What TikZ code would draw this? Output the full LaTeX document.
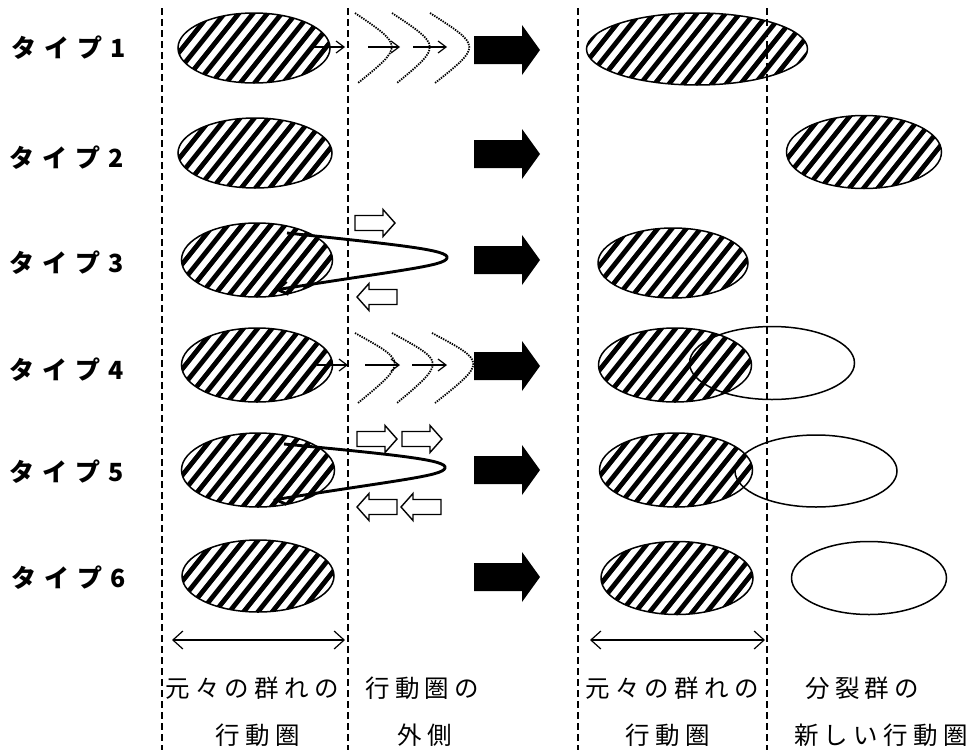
\documentclass[tikz,border=0pt]{standalone}
\usepackage{fontspec}
\usetikzlibrary{shapes.geometric,arrows.meta}
\newfontfamily\typefont{Noto Sans CJK JP}[LetterSpace=32]
\newfontfamily\botfont{Noto Sans CJK JP}[LetterSpace=22]
\tikzset{
  ell/.style={ellipse, draw, line width=1.5pt, inner sep=0pt},
  hatched/.style={ell, path picture={
     \foreach \k in {-13,...,13}{
       \draw[line width=4.8pt] ([shift={(\k*14.3-32,40)}]path picture bounding box.center)
          -- ([shift={(\k*14.3+32,-40)}]path picture bounding box.center);}}},
  divider/.style={dash pattern=on 7pt off 4pt, line width=1.2pt},
  typelbl/.style={font=\typefont\bfseries\fontsize{25}{30}\selectfont, anchor=west, inner sep=0pt},
  botlbl/.style={font=\botfont\fontsize{24.5}{28}\selectfont, inner sep=0pt},
  smallarr/.style={line width=1.2pt, -{Straight Barb[length=8pt,width=12pt]}},
  wave/.style={dash pattern=on 1.4pt off 1.1pt, line width=1.8pt},
  loopline/.style={line width=2.9pt, -{Straight Barb[length=10pt,width=13pt]}},
  span/.style={line width=1.2pt, {Straight Barb[length=10pt,width=18pt]}-{Straight Barb[length=10pt,width=18pt]}},
  blockarr/.style={fill=black},
  openarr/.style={draw, line width=1.4pt, fill=white},
}
\newcommand\blkarrow[1]{%
  \fill[blockarr] (474,#1-14) -- (522,#1-14) -- (522,#1-25) -- (540,#1) -- (522,#1+25) -- (522,#1+14) -- (474,#1+14) -- cycle;}
\newcommand\openright[2]{%
  \draw[openarr] (#1,#2-7.5) -- (#1+28,#2-7.5) -- (#1+28,#2-13.5) -- (#1+40,#2) -- (#1+28,#2+13.5) -- (#1+28,#2+7.5) -- (#1,#2+7.5) -- cycle;}
\newcommand\openleft[2]{%
  \draw[openarr] (#1+40,#2-7.5) -- (#1+12,#2-7.5) -- (#1+12,#2-13.5) -- (#1,#2) -- (#1+12,#2+13.5) -- (#1+12,#2+7.5) -- (#1+40,#2+7.5) -- cycle;}
\begin{document}
\begin{tikzpicture}[x=1pt,y=-1pt]
\useasboundingbox (0,0) rectangle (972,750);
\fill[white] (0,0) rectangle (972,750);

% type labels
\node[typelbl] (t1) at (11,48)  {タイプ1};
\node[typelbl] (t2) at (9,158)  {タイプ2};
\node[typelbl] (t3) at (9,263)  {タイプ3};
\node[typelbl] (t4) at (9,370)  {タイプ4};
\node[typelbl] (t5) at (9,472)  {タイプ5};
\node[typelbl] (t6) at (11,578) {タイプ6};

% original ranges (left)
\node[hatched, minimum width=152pt, minimum height=70pt] (a1) at (254,48) {};
\node[hatched, minimum width=154pt, minimum height=70pt] (a2) at (255,153) {};
\node[hatched, minimum width=151pt, minimum height=74pt] (a3) at (257,260) {};
\node[hatched, minimum width=151pt, minimum height=74pt] (a4) at (257,365) {};
\node[hatched, minimum width=153pt, minimum height=74pt] (a5) at (258,470) {};
\node[hatched, minimum width=152pt, minimum height=72pt] (a6) at (258,576) {};

% results (right)
\node[hatched, minimum width=221pt, minimum height=72pt] (b1) at (697,49) {};
\node[hatched, minimum width=155pt, minimum height=73pt] (b2) at (864,152) {};
\node[hatched, minimum width=150pt, minimum height=70pt] (b3) at (673,263) {};
\node[hatched, minimum width=153pt, minimum height=74pt] (b4) at (675,365) {};
\node[ell, minimum width=165pt, minimum height=73pt] (c4) at (772,363) {};
\node[hatched, minimum width=153pt, minimum height=74pt] (b5) at (676,470) {};
\node[ell, minimum width=162pt, minimum height=72pt] (c5) at (816,471) {};
\node[hatched, minimum width=152pt, minimum height=73pt] (b6) at (677,578) {};
\node[ell, minimum width=155pt, minimum height=73pt] (c6) at (869,578) {};

% dividers
\coordinate (d1t) at (162,8);  \coordinate (d1b) at (162,750);
\coordinate (d2t) at (348,8);  \coordinate (d2b) at (348,750);
\coordinate (d3t) at (578,8);  \coordinate (d3b) at (578,750);
\coordinate (d4t) at (767,8);  \coordinate (d4b) at (767,750);
\draw[divider] (d1t) -- (d1b);
\draw[divider] (d2t) -- (d2b);
\draw[divider] (d3t) -- (d3b);
\draw[divider] (d4t) -- (d4b);

% type 1 : gradual expansion
\coordinate (p1a) at (313,47); \coordinate (p1b) at (345,47);
\coordinate (p1c) at (368,47); \coordinate (p1d) at (400,47);
\coordinate (p1e) at (413,47); \coordinate (p1f) at (447,47);
\draw[smallarr] (p1a) -- (p1b);
\draw[smallarr] (p1c) -- (p1d);
\draw[smallarr] (p1e) -- (p1f);
\draw[wave] (355,13) .. controls (403.5,46) .. (358,83);
\draw[wave] (392,13) .. controls (441.5,46) .. (397,83);
\draw[wave] (430,13) .. controls (481.5,46) .. (435,83);

% type 4 : gradual expansion
\coordinate (p4a) at (317,365); \coordinate (p4b) at (348,365);
\coordinate (p4c) at (365,365); \coordinate (p4d) at (400,365);
\coordinate (p4e) at (412,365); \coordinate (p4f) at (447,365);
\draw[smallarr] (p4a) -- (p4b);
\draw[smallarr] (p4c) -- (p4d);
\draw[smallarr] (p4e) -- (p4f);
\draw[wave] (355,333) .. controls (407.5,362) .. (358,403);
\draw[wave] (392,333) .. controls (445.5,362) .. (397,403);
\draw[wave] (432,333) .. controls (486.5,362) .. (435,403);

% type 3 : excursion loop
\coordinate (l3s) at (287,233); \coordinate (l3t) at (447,258); \coordinate (l3e) at (275,290);
\draw[loopline] (l3s) .. controls (400,245) and (450,250) .. (l3t)
   .. controls (445,266) and (400,270) .. (l3e);
\openright{355}{223}
\openleft{357}{297}

% type 5 : repeated excursion loop
\coordinate (l5s) at (284,444); \coordinate (l5t) at (445,468); \coordinate (l5e) at (273,500);
\draw[loopline] (l5s) .. controls (398,455) and (448,460) .. (l5t)
   .. controls (443,476) and (398,480) .. (l5e);
\openright{357}{439}
\openright{402}{439}
\openleft{357}{507}
\openleft{401}{507}

% transition arrows
\blkarrow{50}
\blkarrow{154}
\blkarrow{260}
\blkarrow{366}
\blkarrow{470}
\blkarrow{577}

% bottom spans
\coordinate (s1a) at (172,640); \coordinate (s1b) at (345,640);
\coordinate (s2a) at (590,640); \coordinate (s2b) at (765,640);
\draw[span] (s1a) -- (s1b);
\draw[span] (s2a) -- (s2b);

% bottom labels
\node[botlbl, anchor=west] (x1) at (165,688) {元々の群れの};
\node[botlbl, anchor=west] (x2) at (365,688) {行動圏の};
\node[botlbl, anchor=west] (x3) at (585,688) {元々の群れの};
\node[botlbl, anchor=west] (x4) at (805,688) {分裂群の};
\node[botlbl] (y1) at (258,735) {行動圏};
\node[botlbl] (y2) at (425,735) {外側};
\node[botlbl] (y3) at (668,735) {行動圏};
\node[botlbl] (y4) at (881,735) {新しい行動圏};
\end{tikzpicture}
\end{document}
